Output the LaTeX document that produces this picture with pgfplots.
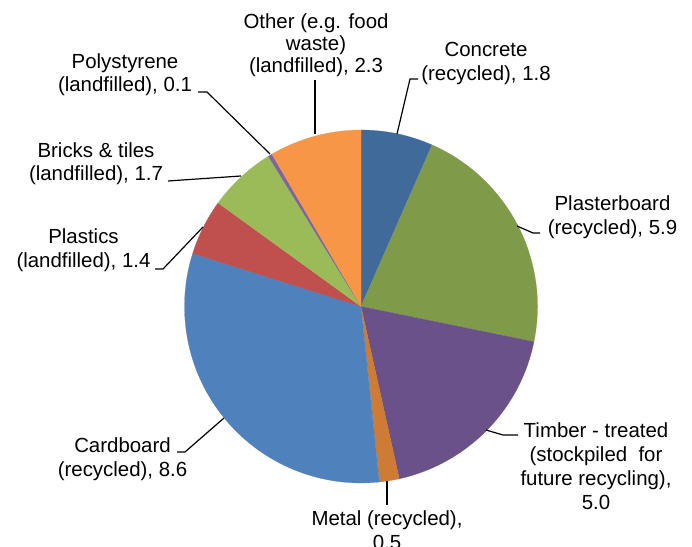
\documentclass[border=0pt]{standalone}
\usepackage{pgfplots}
\usepackage{pgfplotstable}
\pgfplotsset{compat=1.18}
\usepackage{fontspec}
\setmainfont{Liberation Sans}
\definecolor{cConcrete}{HTML}{3F6A9A}
\definecolor{cPlaster}{HTML}{7F9B4A}
\definecolor{cTimber}{HTML}{6A5189}
\definecolor{cMetal}{HTML}{CE7B36}
\definecolor{cCard}{HTML}{4F81BD}
\definecolor{cPlastic}{HTML}{C0504D}
\definecolor{cBrick}{HTML}{9BBB59}
\definecolor{cPoly}{HTML}{8064A2}
\definecolor{cOther}{HTML}{F79646}
\pgfplotstableread{
name value color
Concrete 1.8 cConcrete
Plasterboard 5.9 cPlaster
Timber 5.0 cTimber
Metal 0.5 cMetal
Cardboard 8.6 cCard
Plastics 1.4 cPlastic
Bricks 1.7 cBrick
Polystyrene 0.1 cPoly
Other 2.3 cOther
}\piedata
\newcommand\lab[3]{\node[anchor=base,inner sep=0pt,font=\fontsize{20.5}{24}\selectfont] at (axis cs:#1,{539.7-#2}) {#3};}
\begin{document}
\begin{tikzpicture}
\begin{axis}[width=692bp,height=547bp,scale only axis,xmin=0,xmax=692,ymin=0,ymax=547,hide axis,clip=false]
\pgfplotsextra{%
  \gdef\pietotal{0}%
  \pgfplotsforeachungrouped \i in {0,...,8}{%
    \pgfplotstablegetelem{\i}{value}\of\piedata
    \pgfmathsetmacro\tmpt{\pietotal+\pgfplotsretval}%
    \xdef\pietotal{\tmpt}%
  }%
  \gdef\piecum{0}%
  \pgfplotsforeachungrouped \i in {0,...,8}{%
    \pgfplotstablegetelem{\i}{value}\of\piedata \let\sliceval\pgfplotsretval
    \pgfplotstablegetelem{\i}{color}\of\piedata \let\slicecol\pgfplotsretval
    \pgfmathsetmacro\angA{90-\piecum*360/\pietotal}%
    \pgfmathsetmacro\angB{90-(\piecum+\sliceval)*360/\pietotal}%
    \fill[fill=\slicecol,draw=\slicecol,line width=0.2pt] (axis cs:361,240.5) -- ++(\angA:176.5bp) arc[start angle=\angA,end angle=\angB,radius=176.5bp] -- cycle;
    \pgfmathsetmacro\tmpc{\piecum+\sliceval}%
    \xdef\piecum{\tmpc}%
  }%
}
% leader lines
\addplot[black,line width=1.2bp,mark=none] coordinates {(315,467) (315,413)};
\addplot[black,line width=1.2bp,mark=none] coordinates {(418,468) (410,468) (397,413)};
\addplot[black,line width=1.2bp,mark=none] coordinates {(198,455) (207,455) (270,393)};
\addplot[black,line width=1.2bp,mark=none] coordinates {(168,366) (241,371)};
\addplot[black,line width=1.2bp,mark=none] coordinates {(155,278) (163,278) (203,320)};
\addplot[black,line width=1.2bp,mark=none] coordinates {(540,314) (533,314) (517,321)};
\addplot[black,line width=1.2bp,mark=none] coordinates {(518,112) (503,112) (486,117)};
\addplot[black,line width=1.2bp,mark=none] coordinates {(387,66) (387,42)};
\addplot[black,line width=1.2bp,mark=none] coordinates {(177,95) (185,95) (224,129)};
% labels
\lab{316}{21.5}{Other (e.g. food}
\lab{316}{43}{waste)}
\lab{316}{65}{(landfilled), 2.3}
\lab{486}{49}{Concrete}
\lab{486}{73}{(recycled), 1.8}
\lab{125}{61}{Polystyrene}
\lab{125}{84}{(landfilled), 0.1}
\lab{96}{150}{Bricks \& tiles}
\lab{96}{173}{(landfilled), 1.7}
\lab{83.5}{236}{Plastics}
\lab{83.5}{260}{(landfilled), 1.4}
\lab{612.5}{203}{Plasterboard}
\lab{612.5}{227}{(recycled), 5.9}
\lab{596}{430}{Timber - treated}
\lab{596}{454}{(stockpiled\ \ for}
\lab{596}{478}{future recycling),}
\lab{596}{502}{5.0}
\lab{387}{518}{Metal (recycled),}
\lab{387}{542}{0.5}
\lab{122.5}{445}{Cardboard}
\lab{122.5}{469}{(recycled), 8.6}
\end{axis}
\pgfresetboundingbox
\path[use as bounding box] (0,0) rectangle (692bp,547bp);
\end{tikzpicture}
\end{document}
